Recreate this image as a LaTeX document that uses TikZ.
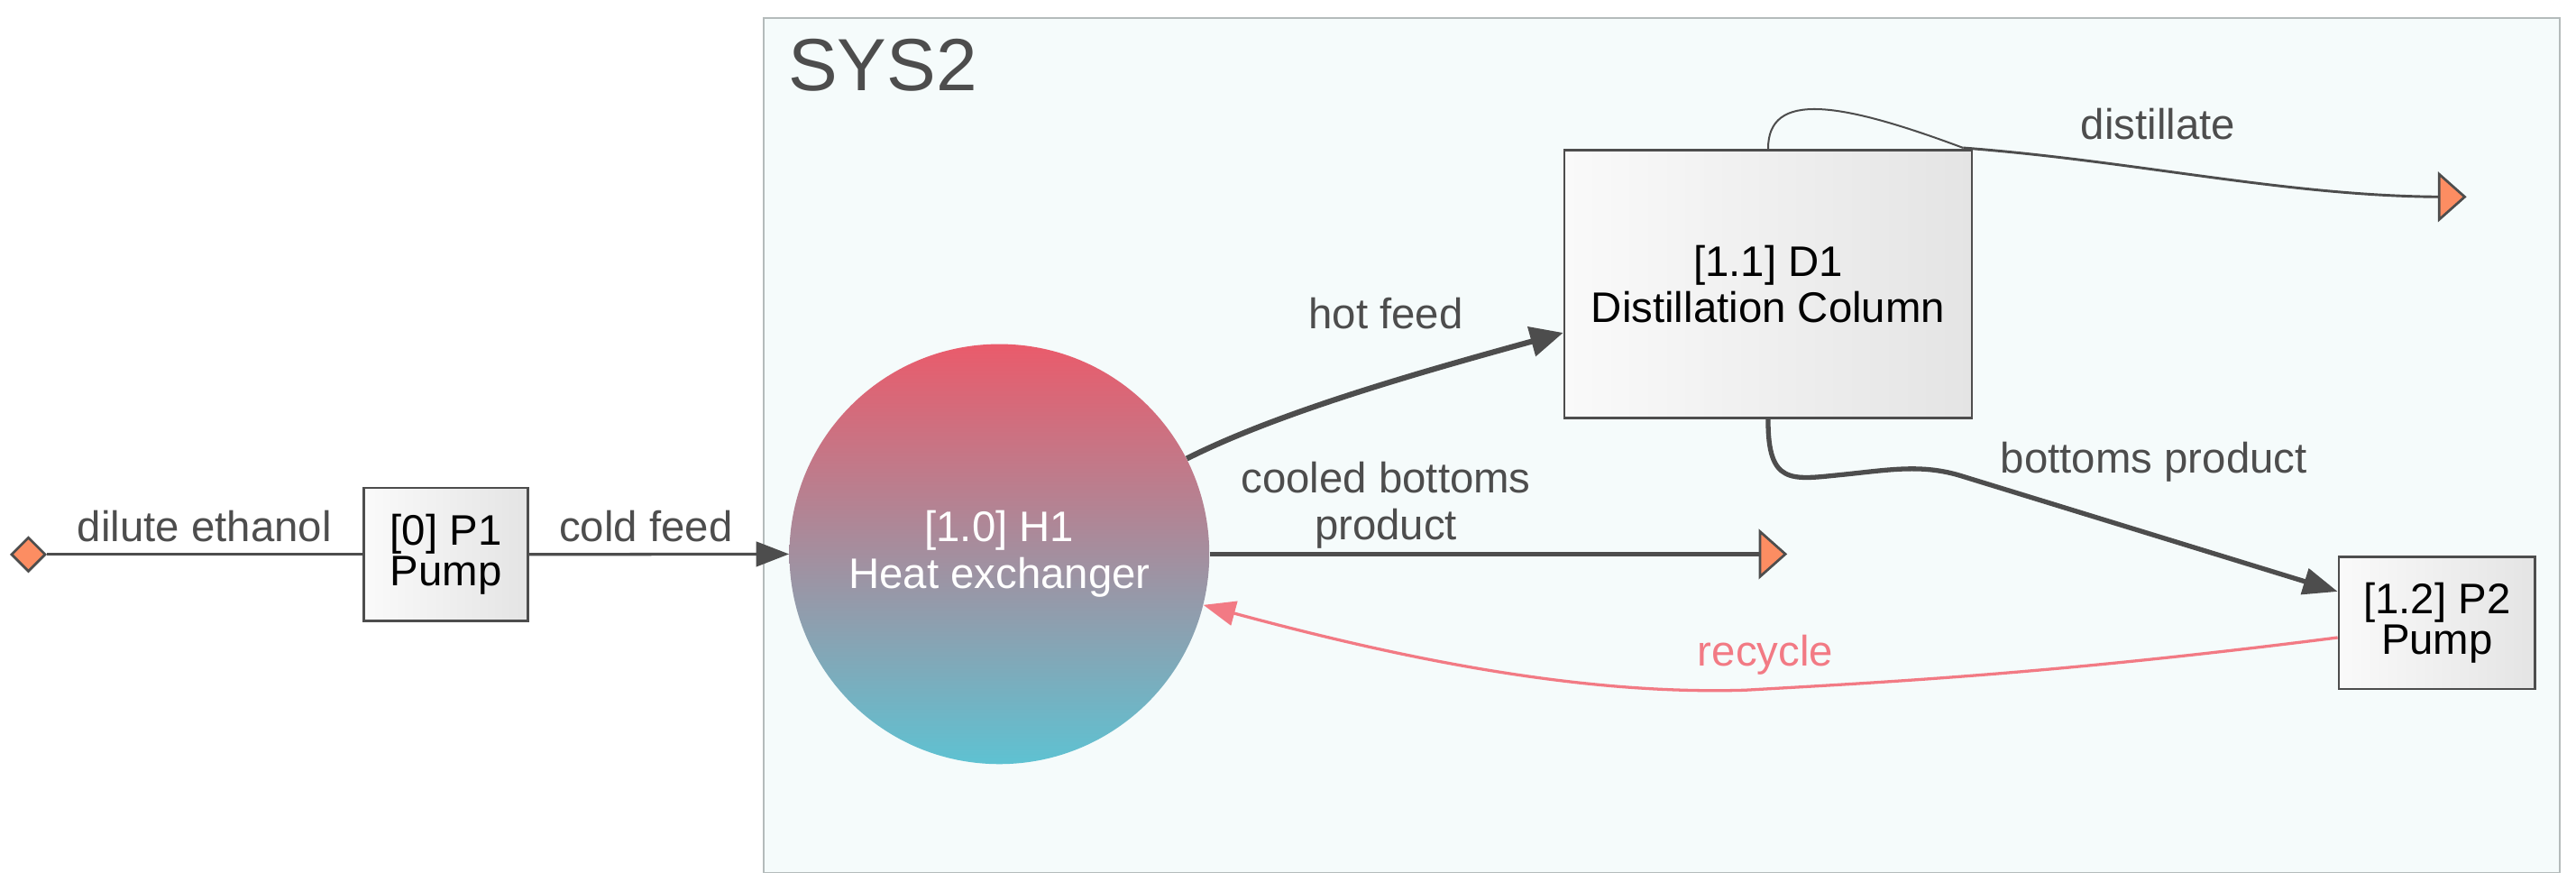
\documentclass[tikz,border=0pt]{standalone}
\usepackage{fontspec}
\setmainfont{Liberation Sans}
\usetikzlibrary{arrows.meta,shapes.geometric,calc}
\definecolor{ln}{HTML}{4D4D4D}
\definecolor{lbl}{HTML}{4D4D4D}
\definecolor{boxl}{HTML}{FAFAFA}
\definecolor{boxr}{HTML}{E4E4E4}
\definecolor{sysfill}{HTML}{F5FBFB}
\definecolor{sysdraw}{HTML}{B4BBBB}
\definecolor{orng}{HTML}{FC8D62}
\definecolor{htop}{HTML}{EA5B6B}
\definecolor{hbot}{HTML}{5EC2D2}
\definecolor{recy}{HTML}{F27A84}
\tikzset{
  lbl/.style={font=\fontsize{26}{28.3}\selectfont, text=lbl, inner sep=0pt, align=center},
  unitbox/.style={draw=ln, line width=1.5pt, left color=boxl, right color=boxr, text=black,
    font=\fontsize{26}{24.4}\selectfont, align=center, inner sep=0pt},
  sinktri/.style={isosceles triangle, isosceles triangle stretches, draw=ln, fill=orng,
    line width=1.5pt, inner sep=0pt, minimum width=27.5pt, minimum height=15.5pt},
  srcdia/.style={diamond, aspect=1, draw=ln, fill=orng, line width=1.5pt, inner sep=0pt, minimum size=21pt},
  flow/.style={draw=ln, -{Triangle[length=20pt,width=15pt]}},
}
\begin{document}
\lineskiplimit=-20pt
\begin{tikzpicture}[x=1pt,y=-1pt]
\useasboundingbox (0,0) rectangle (1568,541.7);
% cluster
\node[draw=sysdraw, line width=1pt, fill=sysfill, minimum width=1093pt, minimum height=520pt, inner sep=0pt] (sys) at (1011.5,271) {};
\node[font=\fontsize{45}{50}\selectfont, text=lbl, inner sep=0pt, anchor=base west] (systitle) at (479.5,54.9) {SYS2};
% nodes
\node[srcdia] (src) at (17.3,337.4) {};
\node[unitbox, minimum width=100pt, minimum height=81pt] (P1) at (271.4,337.4) {{[0] P1}\\Pump};
\node[circle, minimum size=255.6pt, inner sep=0pt, top color=htop, bottom color=hbot, text=white,
  font=\fontsize{26}{28.3}\selectfont, align=center] (H1) at (608.3,337.2) {{[1.0] H1}\\Heat exchanger};
\node[unitbox, minimum width=248pt, minimum height=163pt, font=\fontsize{26}{28}\selectfont] (D1) at (1076.25,172.9) {{[1.1] D1}\\Distillation Column};
\node[unitbox, minimum width=119.5pt, minimum height=80.5pt] (P2) at (1483.4,379) {{[1.2] P2}\\Pump};
\node[sinktri, anchor=west] (cout) at (1070.5,337.2) {};
\node[sinktri, anchor=west] (dout) at (1484,119.8) {};
\coordinate (p2in) at ($(P2.west)+(0,-19)$);
\coordinate (p2out) at ($(P2.west)+(0,9)$);
\coordinate (d1in) at ($(D1.west)+(0,29.6)$);
\coordinate (dj) at (1195,90);
% connectors
\draw[ln, line width=1.8pt] (src.east) -- (P1.west);
\draw[flow, line width=1.8pt] (P1.east) -- (H1.west);
\draw[draw=ln, line width=3.4pt, -{Triangle[length=20pt,width=18pt]}] (H1.27.6) .. controls (780,250) and (870,225) .. (d1in);
\draw[ln, line width=2.8pt] (H1.east) -- (cout.west);
\draw[ln, line width=1.1pt] (D1.north) .. controls (1076,55) and (1120,62) .. (dj);
\draw[ln, line width=1.6pt] (dj) .. controls (1300,98) and (1390,119) .. (dout.west);
\draw[draw=ln, line width=2.9pt, -{Triangle[length=21pt,width=16pt]}] (D1.south) .. controls (1076,295) and (1090,292) .. (1120,289)
   .. controls (1150,286) and (1170,282) .. (1195,290) -- (p2in);
\draw[draw=recy, line width=1.8pt, -{Triangle[length=19.5pt,width=15pt]}] (p2out)
   .. controls (1250,410) and (1150,415) .. (1062,420)
   .. controls (960,423) and (850,400) .. (H1.-14.8);
% labels
\node[lbl, anchor=base] (l1) at (124.5,329.5) {dilute ethanol};
\node[lbl, anchor=base] (l2) at (393.2,329.5) {cold feed};
\node[lbl, anchor=base] (l3) at (843.6,200) {hot feed};
\node[lbl] (l4) at (843.6,307.6) {cooled bottoms\\product};
\node[lbl, anchor=base] (l5) at (1313.6,85) {distillate};
\node[lbl, anchor=base] (l6) at (1311,287.6) {bottoms product};
\node[lbl, anchor=base, text=recy] (l7) at (1074.6,405.2) {recycle};
\end{tikzpicture}
\end{document}
